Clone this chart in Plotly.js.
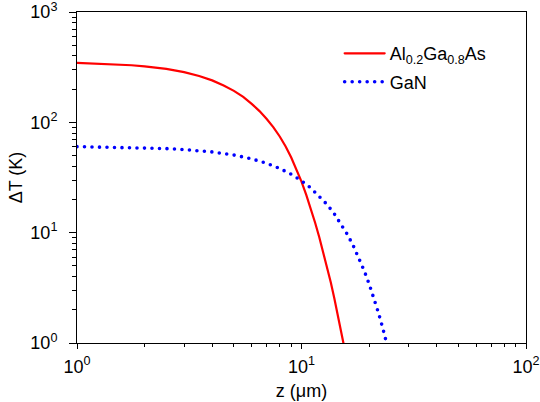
<!DOCTYPE html>
<html>
<head>
<meta charset="utf-8">
<script src="https://cdn.plot.ly/plotly-3.0.1.min.js"></script>
<style>
html,body{margin:0;padding:0;background:#fff;}
path.js-line{stroke-linecap:round !important;}
</style>
</head>
<body>
<div id="chart" style="width:540px;height:402px;"></div>
<script>
// Al0.2Ga0.8As curve
var zAlGaAs = [1, 1.25, 1.5, 1.75, 2, 2.5, 3, 3.5, 4, 4.5, 5, 5.5, 6, 6.5, 7, 7.5, 8, 8.5, 9, 9.5, 10, 10.5, 11, 11.5, 12, 12.5, 13, 13.5, 14, 14.5, 15, 15.5];
var tAlGaAs = [346, 341, 336, 329, 322, 305, 285, 263, 240, 216, 193, 170, 147, 126.5, 107, 90, 74.4, 60.5, 48, 37.5, 29, 22, 16.5, 12.3, 9.1, 6.7, 4.9, 3.55, 2.55, 1.83, 1.3, 0.92];
// GaN curve
var zGaN = [1, 1.5, 2, 2.5, 3, 3.5, 4, 5, 6, 7, 8, 9, 10, 11, 12, 13, 14, 15, 16, 17, 18, 19, 20, 21, 22, 23, 24];
var tGaN = [60.2, 59.4, 58.7, 57.8, 56.6, 55.3, 53.9, 50.5, 46.7, 42.5, 38.2, 33.8, 29.5, 25.4, 21.5, 18.0, 14.8, 12.05, 9.65, 7.62, 5.93, 4.55, 3.44, 2.56, 1.89, 1.37, 0.975];
var xTickVals = [1, 10, 100];
var xTickText = ['10<sup>0</sup>', '10<sup>1</sup>', '10<sup>2</sup>'];
var yTickVals = [1, 10, 100, 1000];
var yTickText = ['10<sup>0</sup>', '10<sup>1</sup>', '10<sup>2</sup>', '10<sup>3</sup>'];
var minorX = [2,3,4,5,6,7,8,9,20,30,40,50,60,70,80,90];
var minorY = [2,3,4,5,6,7,8,9,20,30,40,50,60,70,80,90,200,300,400,500,600,700,800,900];

var FONT = 'Liberation Sans, Arial, sans-serif';
var traces = [
  {x: zAlGaAs, y: tAlGaAs, mode: 'lines', name: 'Al<sub>0.2</sub>Ga<sub>0.8</sub>As',
   legendgroup: 'a', line: {color: '#ff0000', width: 2.2}},
  {x: zGaN, y: tGaN, mode: 'lines', name: 'GaN',
   legendgroup: 'b', line: {color: '#0000ff', width: 3.6, dash: '0px,7.5px'}}
];
var axisCommon = {
  type: 'log', showgrid: false, zeroline: false, showline: true, linecolor: '#000', linewidth: 1,
  mirror: true, ticks: 'outside', tickwidth: 1, tickcolor: '#000',
  ticklabeloverflow: 'allow',
  tickfont: {family: FONT, size: 18, color: '#000'}
};
var layout = {
  width: 540, height: 402,
  margin: {l: 77, r: 14, t: 12, b: 59},
  paper_bgcolor: '#fff', plot_bgcolor: '#fff',
  font: {family: FONT, size: 18, color: '#000'},
  xaxis: Object.assign({}, axisCommon, {
    range: [0, 2], tickvals: xTickVals, ticktext: xTickText, ticklen: 5,
    ticklabelstandoff: 2,
    minor: {tickvals: minorX, ticks: 'outside', ticklen: 3, tickwidth: 1, tickcolor: '#000'},
    title: {text: 'z (μm)', font: {family: FONT, size: 18}, standoff: 8}
  }),
  yaxis: Object.assign({}, axisCommon, {
    range: [0, 3], tickvals: yTickVals, ticktext: yTickText, ticklen: 7,
    ticklabelstandoff: 8,
    minor: {tickvals: minorY, ticks: 'outside', ticklen: 4, tickwidth: 1, tickcolor: '#000'},
    title: {text: 'ΔT (K)', font: {family: FONT, size: 18}, standoff: 3}
  }),
  showlegend: true,
  legend: {x: 0.585, y: 0.93, xanchor: 'left', yanchor: 'top', bgcolor: 'rgba(0,0,0,0)',
           font: {family: FONT, size: 18}, itemwidth: 40, traceorder: 'grouped', tracegroupgap: 2}
};
Plotly.newPlot('chart', traces, layout, {displayModeBar: false, staticPlot: true});
</script>
</body>
</html>
